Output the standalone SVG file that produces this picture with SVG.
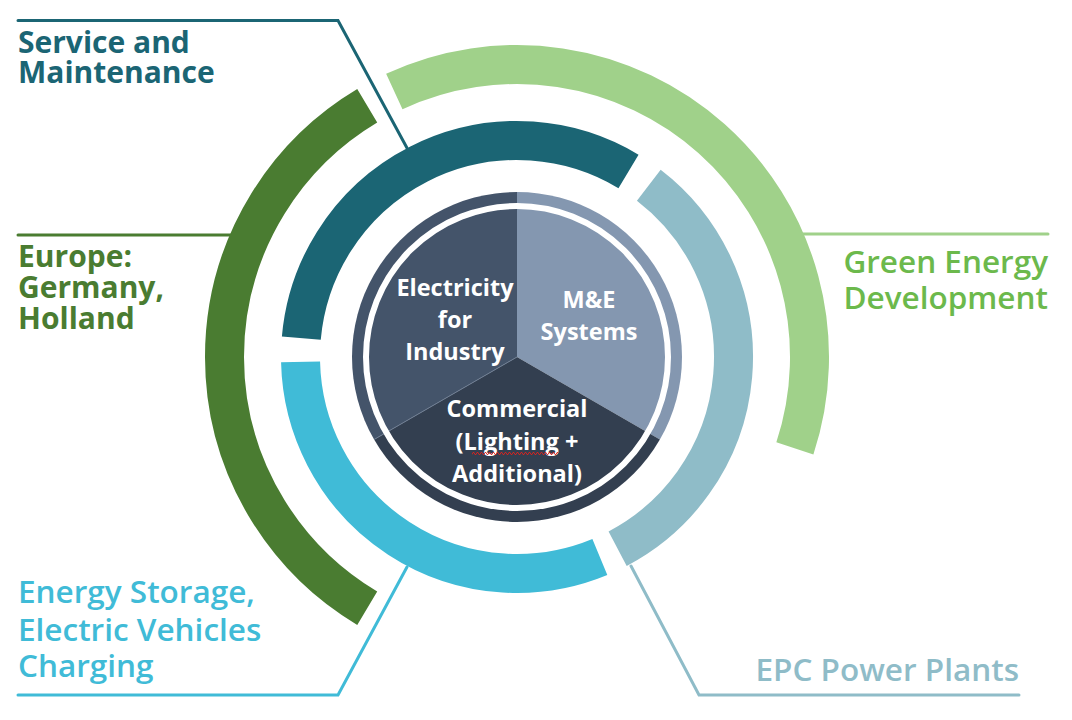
<svg xmlns="http://www.w3.org/2000/svg" width="1072" height="720" viewBox="0 0 1072 720">
  <defs>
    <style>
      .ring { fill: none; stroke-width: 39; stroke-linecap: butt; }
      .lbl { font-family: "Open Sans", "Liberation Sans", sans-serif; font-weight: 700; font-size: 30px; }
      .lbl2 { font-family: "Open Sans", "Liberation Sans", sans-serif; font-weight: 600; font-size: 31.5px; }
      .ctr { font-family: "Open Sans", "Liberation Sans", sans-serif; font-weight: 700; font-size: 23.5px; fill: #ffffff; text-anchor: middle; }
      .conn { fill: none; stroke-width: 3; stroke-linejoin: miter; stroke-linecap: round; }
    </style>
    <pattern id="squiggle" patternUnits="userSpaceOnUse" x="472" y="452" width="4" height="3">
      <polyline points="0,2.5 1,0.5 2,0.5 3,2.5 4,2.5" fill="none" stroke="#e0201c" stroke-width="0.9"/>
    </pattern>
  </defs>
  <rect width="1072" height="720" fill="#ffffff"/>

  <g id="connectors">
    <polyline class="conn" points="18,20.5 338,20.5 407,148" stroke="#1b6574"/>
    <line class="conn" x1="18" y1="235" x2="232" y2="235" stroke="#4a7c31"/>
    <line class="conn" x1="803" y1="234" x2="1048" y2="234" stroke="#a0d18a"/>
    <polyline class="conn" points="18,695 338,695 407,567" stroke="#40bbd7"/>
    <polyline class="conn" points="631,566 699,695 1019,695" stroke="#8fbcc8" stroke-width="2.5"/>
  </g>

  <g id="europe">
    <path class="ring" d="M367.23,105.75 A292.5,292.5 0 0 0 367.23,608.25" stroke="#4a7c31"/>
    <text class="lbl" fill="#4a7c31"><tspan x="18" y="267">Europe:</tspan><tspan x="18" y="298">Germany,</tspan><tspan x="18" y="329">Holland</tspan></text>
  </g>

  <g id="green-energy">
    <path class="ring" d="M394.31,91.47 A292.5,292.5 0 0 1 794.87,448.36" stroke="#a0d18a"/>
    <text class="lbl2" fill="#6cb94c" text-anchor="end"><tspan x="1048" y="273">Green Energy</tspan><tspan x="1048" y="309">Development</tspan></text>
  </g>

  <g id="service">
    <path class="ring" d="M301.32,338.13 A216.5,216.5 0 0 1 628.50,171.42" stroke="#1b6574"/>
    <text class="lbl" fill="#1b6574"><tspan x="18" y="53">Service and</tspan><tspan x="18" y="83">Maintenance</tspan></text>
  </g>

  <g id="energy-storage">
    <path class="ring" d="M300.56,361.91 A216.5,216.5 0 0 0 599.85,557.02" stroke="#40bbd7"/>
    <text class="lbl2" fill="#40bbd7"><tspan x="18" y="603">Energy Storage,</tspan><tspan x="18" y="641">Electric Vehicles</tspan><tspan x="18" y="677">Charging</tspan></text>
  </g>

  <g id="epc">
    <path class="ring" d="M617.64,548.69 A216.5,216.5 0 0 0 648.80,185.24" stroke="#8fbcc8"/>
    <text class="lbl2" fill="#8fbcc8" text-anchor="end" x="1019" y="681">EPC Power Plants</text>
  </g>

  <g id="industry">
    <path d="M517,357 L517,192 A165,165 0 0 0 374.11,439.5 Z" fill="#44546a"/>
    <text class="ctr"><tspan x="455" y="296">Electricity</tspan><tspan x="455" y="328">for</tspan><tspan x="455" y="360">Industry</tspan></text>
  </g>

  <g id="me-systems">
    <path d="M517,357 L517,192 A165,165 0 0 1 659.89,439.5 Z" fill="#8497b0"/>
    <text class="ctr"><tspan x="589" y="308">M&amp;E</tspan><tspan x="589" y="340">Systems</tspan></text>
  </g>

  <g id="commercial">
    <path d="M517,357 L374.11,439.5 A165,165 0 0 0 659.89,439.5 Z" fill="#333f50"/>
  </g>

  <g id="pie-details">
    <line x1="517" y1="357" x2="374.11" y2="439.5" stroke="#6f7e93" stroke-width="1"/>
    <circle cx="517" cy="357" r="151" fill="none" stroke="#ffffff" stroke-width="6"/>
  </g>

  <g id="commercial-label">
    <text class="ctr"><tspan x="517" y="417">Commercial</tspan><tspan x="517" y="450">(Lighting +</tspan><tspan x="517" y="482">Additional)</tspan></text>
    <rect x="472" y="452" width="86" height="3" fill="url(#squiggle)"/>
  </g>
</svg>
